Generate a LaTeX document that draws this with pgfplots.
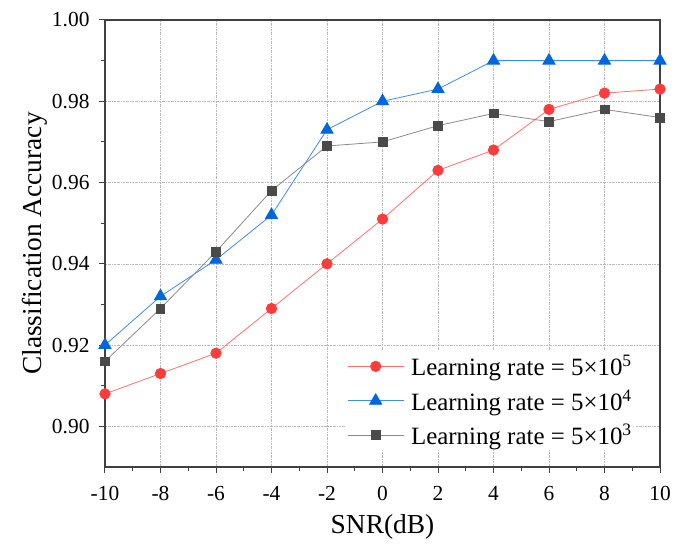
\documentclass[border=0pt]{standalone}
\usepackage{fontspec}
\setmainfont{Liberation Serif}
\usepackage{pgfplots}
\pgfplotsset{compat=1.18}
\definecolor{cred}{HTML}{FF3B3B}
\definecolor{credl}{HTML}{FF7070}
\definecolor{cblue}{HTML}{0066DD}
\definecolor{cbluel}{HTML}{3D8BEA}
\definecolor{cgray}{HTML}{4A4A4A}
\definecolor{cgrayl}{HTML}{8A8A8A}
\definecolor{axc}{HTML}{404040}
\begin{document}
\begin{tikzpicture}
\begin{axis}[
  name=ax,
  scale only axis,
  width=555bp, height=447bp,
  xmin=-10, xmax=10, ymin=0.89, ymax=1.00,
  xtick={-10,-8,...,10},
  ytick={0.90,0.92,0.94,0.96,0.98,1.00},
  minor x tick num=1, minor y tick num=1,
  tick pos=left,
  tick align=outside,
  major tick length=6bp, minor tick length=4bp,
  every tick/.style={axc, line width=1bp},
  axis line style={axc, line width=1.3bp},
  grid=major,
  major grid style={gray!55, line width=0.6bp, dash pattern=on 2bp off 1bp on 0.5bp off 1bp},
  /pgf/number format/assume math mode=true,
  yticklabel style={xshift=-6bp, /pgf/number format/fixed, /pgf/number format/precision=2, /pgf/number format/fixed zerofill},
  xticklabel style={yshift=-10bp, /pgf/number format/fixed},
  ticklabel style={font=\fontsize{21.5}{25}\selectfont},
  label style={font=\fontsize{27.5}{32}\selectfont},
  xlabel={SNR(dB)},
  ylabel={Classification Accuracy},
  ylabel style={yshift=-2bp},
  xlabel style={yshift=-7bp},
  legend style={at={(0.4326,0.259)}, anchor=north west, draw=none, fill=white,
    font=\fontsize{25}{29}\selectfont, row sep=8.5bp, inner sep=2bp,
    cells={anchor=west}},
  legend image code/.code={\draw[mark repeat=2,mark phase=2] plot coordinates {(0bp,0bp)(28bp,0bp)(56bp,0bp)}; \path (61bp,0bp);},
]
\addplot[credl, line width=0.8bp, mark=*, mark size=5.2bp, mark options={solid, fill=cred, draw=cred}]
coordinates {(-10,0.908)(-8,0.913)(-6,0.918)(-4,0.929)(-2,0.940)(0,0.951)(2,0.963)(4,0.968)(6,0.978)(8,0.982)(10,0.983)};
\addlegendentry{Learning rate = 5×10\textsuperscript{5}}
\addplot[cbluel, line width=0.8bp, mark=triangle*, mark size=7bp, mark options={solid, fill=cblue, draw=cblue}]
coordinates {(-10,0.920)(-8,0.932)(-6,0.941)(-4,0.952)(-2,0.973)(0,0.980)(2,0.983)(4,0.990)(6,0.990)(8,0.990)(10,0.990)};
\addlegendentry{Learning rate = 5×10\textsuperscript{4}}
\addplot[cgrayl, line width=0.8bp, mark=square*, mark size=4.4bp, mark options={solid, fill=cgray, draw=cgray}]
coordinates {(-10,0.916)(-8,0.929)(-6,0.943)(-4,0.958)(-2,0.969)(0,0.970)(2,0.974)(4,0.977)(6,0.975)(8,0.978)(10,0.976)};
\addlegendentry{Learning rate = 5×10\textsuperscript{3}}
\end{axis}
\pgfresetboundingbox
\path[use as bounding box] ([xshift=-105bp,yshift=-83bp]ax.south west) rectangle ([xshift=14bp,yshift=20bp]ax.north east);
\end{tikzpicture}
\end{document}
